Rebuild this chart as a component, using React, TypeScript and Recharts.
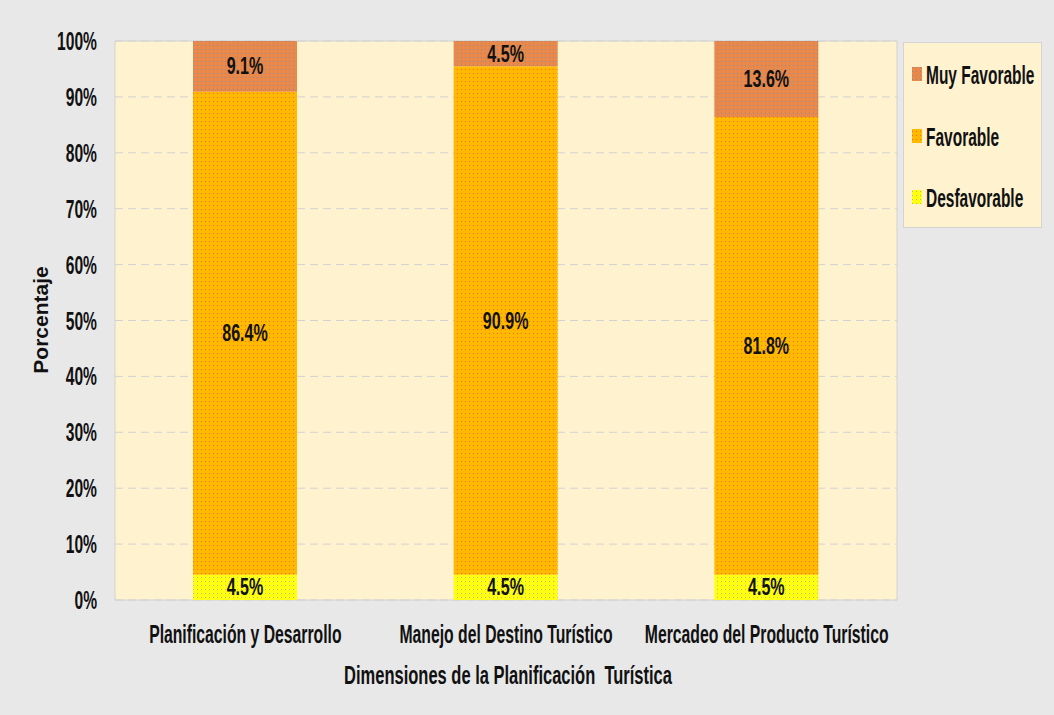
import { BarChart, Bar, XAxis, YAxis, CartesianGrid, LabelList, ReferenceArea } from "recharts";

const categories = ["Planificación y Desarrollo", "Manejo del Destino Turístico", "Mercadeo del Producto Turístico"];
const desfavorable = [4.5, 4.5, 4.5];
const favorable = [86.4, 90.9, 81.8];
const muyFavorable = [9.1, 4.5, 13.6];
const yTicks = [0, 0.1, 0.2, 0.3, 0.4, 0.5, 0.6, 0.7, 0.8, 0.9, 1];

const data = categories.map((name, i) => ({
  name,
  desfavorable: desfavorable[i],
  favorable: favorable[i],
  muyFavorable: muyFavorable[i],
}));

const FONT = "'Liberation Sans', Arial, sans-serif";
const INK = "#111";

const series = [
  { key: "muyFavorable", id: "pat-muy", label: "Muy Favorable", bg: "#E8884A", dot: "#8F8A92" },
  { key: "favorable", id: "pat-fav", label: "Favorable", bg: "#FFBA00", dot: "#FF6A20" },
  { key: "desfavorable", id: "pat-des", label: "Desfavorable", bg: "#FFFF10", dot: "#B8B890" },
];

// the source uses a tall, condensed bold face: fake it by squeezing text horizontally
function NarrowText({ x, y, text, size, sx, anchor = "middle" }: { x: number; y: number; text: string; size: number; sx: number; anchor?: string }) {
  return (
    <text
      transform={`translate(${x},${y}) scale(${sx},1)`}
      textAnchor={anchor}
      fontFamily={FONT}
      fontWeight={700}
      fontSize={size}
      fill={INK}
      style={{ whiteSpace: "pre" }}
    >
      {text}
    </text>
  );
}

const XTick = (p: any) => <NarrowText x={p.x} y={p.y + 43} text={p.payload.value} size={25} sx={0.63} />;

const YTick = (p: any) => (
  <NarrowText x={p.x} y={p.y + 9} text={`${Math.round(p.payload.value * 100)}%`} size={26} sx={0.6} anchor="end" />
);

const SegLabel = (p: any) => (
  <NarrowText x={p.x + p.width / 2} y={p.y + p.height / 2 + 8} text={`${p.value}%`} size={23} sx={0.7} />
);

function LegendBox() {
  const rows = [75, 137, 198];
  return (
    <svg width={140} height={187} style={{ position: "absolute", left: 903, top: 42 }}>
      <rect x={0.5} y={0.5} width={138} height={185} fill="#FFF2CF" stroke="#D4D4D4" />
      {series.map((s, i) => (
        <g key={s.key}>
          <rect x={9} y={rows[i] - 43 - 7} width={10} height={14} fill={`url(#${s.id}-lg)`} />
          <NarrowText x={23} y={rows[i] - 42 + 9} text={s.label} size={25} sx={0.62} anchor="start" />
        </g>
      ))}
      <defs>
        {series.map((s) => (
          <pattern key={s.key} id={`${s.id}-lg`} width={4} height={4} patternUnits="userSpaceOnUse">
            <rect width={4} height={4} fill={s.bg} />
            <rect x={1} y={1} width={1} height={1} fill={s.dot} />
          </pattern>
        ))}
      </defs>
    </svg>
  );
}

export default function App() {
  return (
    <div style={{ position: "absolute", left: 0, top: 0, width: 1054, height: 715, background: "#E8E8E8" }}>
      <BarChart
        width={1054}
        height={715}
        data={data}
        stackOffset="expand"
        margin={{ top: 41, right: 157, left: 15, bottom: 25 }}
        barSize={104}
      >
        <defs>
          {series.map((s) => (
            <pattern key={s.key} id={s.id} width={4} height={4} patternUnits="userSpaceOnUse">
              <rect width={4} height={4} fill={s.bg} />
              <rect x={1} y={1} width={1} height={1} fill={s.dot} />
            </pattern>
          ))}
        </defs>
        <CartesianGrid vertical={false} fill="#FFF2CF" stroke="#D2D2D2" strokeDasharray="8 5" />
        <ReferenceArea y1={0} y2={1} fill="none" stroke="#D2D2D2" ifOverflow="visible" />
        <XAxis
          dataKey="name"
          interval={0}
          tickLine={false}
          axisLine={false}
          tickSize={0}
          tickMargin={0}
          height={90}
          tick={XTick}
          label={{
            position: "insideBottom",
            content: (p: any) => (
              <NarrowText
                x={p.viewBox.x + p.viewBox.width / 2 + 2}
                y={684}
                text="Dimensiones de la Planificación  Turística"
                size={25}
                sx={0.66}
              />
            ),
          }}
        />
        <YAxis
          ticks={yTicks}
          domain={[0, 1]}
          tickLine={false}
          axisLine={false}
          tickSize={0}
          tickMargin={18}
          width={100}
          tick={YTick}
          label={{
            position: "insideLeft",
            content: () => (
              <text
                transform="translate(48,320) rotate(-90)"
                textAnchor="middle"
                fontFamily={FONT}
                fontWeight={700}
                fontSize={21}
                fill={INK}
              >
                Porcentaje
              </text>
            ),
          }}
        />
        <Bar dataKey="desfavorable" name="Desfavorable" stackId="a" fill="url(#pat-des)" isAnimationActive={false}>
          <LabelList dataKey="desfavorable" content={SegLabel} />
        </Bar>
        <Bar dataKey="favorable" name="Favorable" stackId="a" fill="url(#pat-fav)" isAnimationActive={false}>
          <LabelList dataKey="favorable" content={SegLabel} />
        </Bar>
        <Bar dataKey="muyFavorable" name="Muy Favorable" stackId="a" fill="url(#pat-muy)" isAnimationActive={false}>
          <LabelList dataKey="muyFavorable" content={SegLabel} />
        </Bar>
      </BarChart>
      <LegendBox />
    </div>
  );
}
